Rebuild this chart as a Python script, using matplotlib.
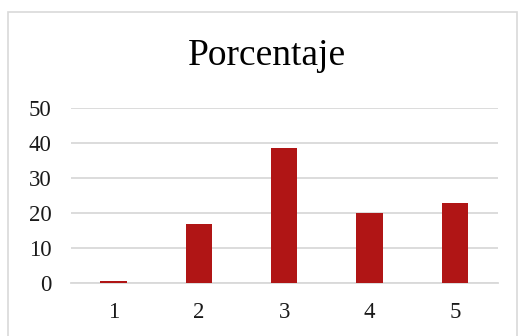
import matplotlib.pyplot as plt
from matplotlib.patches import Rectangle

categories = ['1', '2', '3', '4', '5']
porcentaje = [0.6, 16.9, 38.7, 20.2, 22.9]
y_ticks = [0, 10, 20, 30, 40, 50]

plt.rcParams['font.family'] = ['Liberation Serif', 'DejaVu Serif']

fig = plt.figure(figsize=(5.22, 3.36), dpi=100)
fig.patch.set_facecolor('white')

# light grey chart frame (Excel style)
frame = Rectangle((8 / 522, -0.1), (517 - 8) / 522, 1.1 - 12 / 336,
                  transform=fig.transFigure, fill=False,
                  edgecolor='#D9D9D9', linewidth=1.2)
fig.patches.append(frame)

ax = fig.add_axes([70.7 / 522, 1 - 283.3 / 336, 427 / 522, 175 / 336])
x = list(range(1, len(categories) + 1))
ax.bar(x, porcentaje, width=0.31, color='#B01515', zorder=3)

ax.set_xlim(0.5, 5.5)
ax.set_ylim(0, 50)
ax.set_yticks(y_ticks)
ax.set_xticks(x)
ax.set_xticklabels(categories)
ax.grid(axis='y', color='#D9D9D9', linewidth=1.3, zorder=0)
ax.set_axisbelow(True)
for s in ['top', 'right', 'left']:
    ax.spines[s].set_visible(False)
ax.spines['bottom'].set_color('#D9D9D9')
ax.spines['bottom'].set_linewidth(1.3)
ax.tick_params(axis='both', length=0, labelsize=16.5, colors='#1a1a1a')
ax.tick_params(axis='y', pad=14)
ax.tick_params(axis='x', pad=13.5)

fig.text(267 / 522, 1 - 56 / 336, 'Porcentaje', ha='center', va='center',
         fontsize=27, color='black')

fig.savefig('out.png', dpi=100)
